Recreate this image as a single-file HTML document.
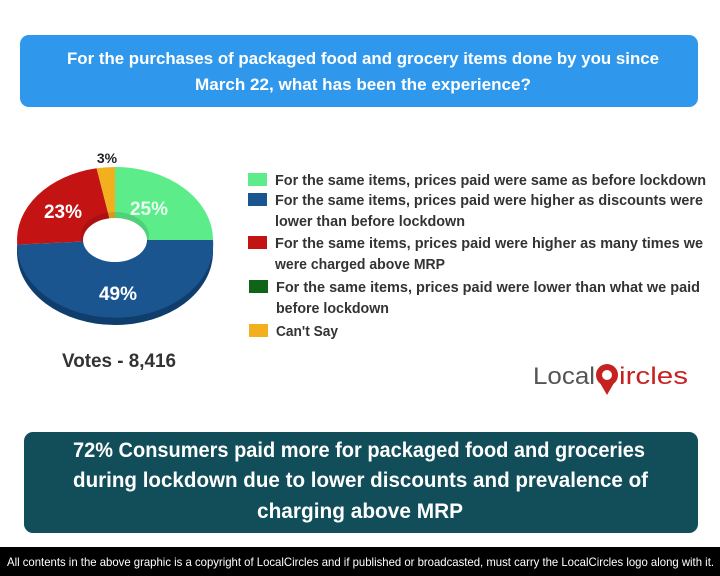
<!DOCTYPE html>
<html><head><meta charset="utf-8"><style>
html,body{margin:0;padding:0;background:#fff;}
svg{display:block;}
text{font-family:"Liberation Sans Narrow","Liberation Sans",sans-serif;font-weight:bold;}
</style></head><body>
<svg width="720" height="576" viewBox="0 0 720 576" xmlns="http://www.w3.org/2000/svg">
<rect x="0" y="0" width="720" height="576" fill="#fff"/>
<rect x="20" y="35" width="678" height="72" rx="9" fill="#2f98ec"/>
<text x="67" y="64" font-size="17" fill="#fff" textLength="592" lengthAdjust="spacingAndGlyphs">For the purchases of packaged food and grocery items done by you since</text>
<text x="195" y="90" font-size="17" fill="#fff" textLength="336" lengthAdjust="spacingAndGlyphs">March 22, what has been the experience?</text>

<path d="M17,240 A98,73 0 0 0 213,240 L213,252 A98,73 0 0 1 17,252 Z" fill="#0f3e6d"/>
<path d="M115,240 L115,167 A98,73 0 0 1 213,240 Z" fill="#5ced8a"/>
<path d="M115,240 L213,240 A98,73 0 1 1 17.2,244.6 Z" fill="#1b5590"/>
<path d="M115,240 L17.2,244.6 A98,73 0 0 1 96.6,168.3 Z" fill="#c41313"/>
<path d="M115,240 L96.6,168.3 A98,73 0 0 1 115,167 Z" fill="#f2b01e"/>
<ellipse cx="115" cy="236" rx="34" ry="24" fill="#000" opacity="0.12"/>
<ellipse cx="115" cy="240" rx="32" ry="22" fill="#fff"/>
<text x="149" y="215" font-size="19" fill="#eafff0" text-anchor="middle">25%</text>
<text x="63" y="218" font-size="19" fill="#fff" text-anchor="middle">23%</text>
<text x="118" y="300" font-size="19" fill="#fff" text-anchor="middle">49%</text>
<text x="107" y="163" font-size="14" fill="#222" text-anchor="middle">3%</text>
<text x="62" y="367" font-size="19" fill="#333" textLength="114" lengthAdjust="spacingAndGlyphs">Votes - 8,416</text>

<rect x="248" y="173" width="19" height="13" fill="#5ced8a"/>
<rect x="248" y="193" width="19" height="13" fill="#1b5590"/>
<rect x="248" y="236" width="19" height="13" fill="#c41313"/>
<rect x="249" y="280" width="19" height="13" fill="#0f6418"/>
<rect x="249" y="324" width="19" height="13" fill="#f2b01e"/>
<g font-size="14.5" fill="#333">
<text x="275" y="185" textLength="431" lengthAdjust="spacingAndGlyphs">For the same items, prices paid were same as before lockdown</text>
<text x="275" y="205" textLength="428" lengthAdjust="spacingAndGlyphs">For the same items, prices paid were higher as discounts were</text>
<text x="275" y="226" textLength="190" lengthAdjust="spacingAndGlyphs">lower than before lockdown</text>
<text x="275" y="248" textLength="428" lengthAdjust="spacingAndGlyphs">For the same items, prices paid were higher as many times we</text>
<text x="275" y="269" textLength="170" lengthAdjust="spacingAndGlyphs">were charged above MRP</text>
<text x="276" y="292" textLength="424" lengthAdjust="spacingAndGlyphs">For the same items, prices paid were lower than what we paid</text>
<text x="276" y="313" textLength="113" lengthAdjust="spacingAndGlyphs">before lockdown</text>
<text x="276" y="336" textLength="62" lengthAdjust="spacingAndGlyphs">Can't Say</text>
</g>

<text x="533" y="384" font-size="24" fill="#555" style="font-family:'Liberation Sans',sans-serif;font-weight:normal" textLength="62" lengthAdjust="spacingAndGlyphs">Local</text>
<circle cx="607" cy="375" r="11" fill="#c62222"/>
<circle cx="607" cy="375" r="5" fill="#fff"/>
<path d="M600,383 L607,395 L614,383 Z" fill="#c62222"/>
<text x="619" y="384" font-size="24" fill="#c62222" style="font-family:'Liberation Sans',sans-serif;font-weight:normal" textLength="69" lengthAdjust="spacingAndGlyphs">ircles</text>

<rect x="24" y="432" width="674" height="101" rx="9" fill="#124d5a"/>
<g font-size="21" fill="#fff">
<text x="73" y="457" textLength="572" lengthAdjust="spacingAndGlyphs">72% Consumers paid more for packaged food and groceries</text>
<text x="73" y="487" textLength="575" lengthAdjust="spacingAndGlyphs">during lockdown due to lower discounts and prevalence of</text>
<text x="257" y="518" textLength="206" lengthAdjust="spacingAndGlyphs">charging above MRP</text>
</g>
<rect x="0" y="547" width="720" height="29" fill="#000"/>
<text x="7" y="566" font-size="12" fill="#fff" style="font-weight:normal" textLength="707" lengthAdjust="spacingAndGlyphs">All contents in the above graphic is a copyright of LocalCircles and if published or broadcasted, must carry the LocalCircles logo along with it.</text>
</svg>
</body></html>
